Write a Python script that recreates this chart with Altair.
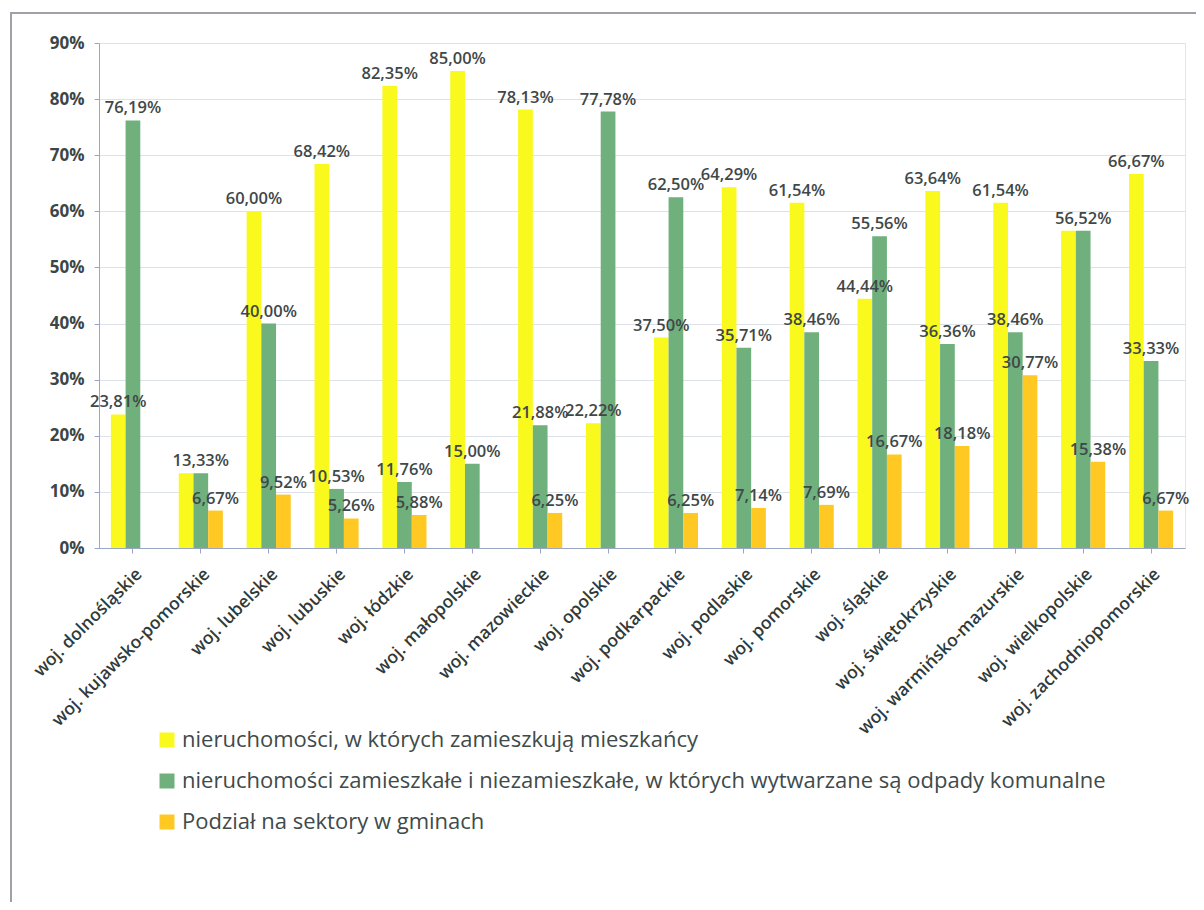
import altair as alt
import pandas as pd

regions = [
    "woj. dolnośląskie", "woj. kujawsko-pomorskie", "woj. lubelskie", "woj. lubuskie",
    "woj. łódzkie", "woj. małopolskie", "woj. mazowieckie", "woj. opolskie",
    "woj. podkarpackie", "woj. podlaskie", "woj. pomorskie", "woj. śląskie",
    "woj. świętokrzyskie", "woj. warmińsko-mazurskie", "woj. wielkopolskie",
    "woj. zachodniopomorskie",
]
series = [
    "nieruchomości, w których zamieszkują mieszkańcy",
    "nieruchomości zamieszkałe i niezamieszkałe, w których wytwarzane są odpady komunalne",
    "Podział na sektory w gminach",
]
s1 = [23.81, 13.33, 60.00, 68.42, 82.35, 85.00, 78.13, 22.22, 37.50, 64.29, 61.54, 44.44, 63.64, 61.54, 56.52, 66.67]
s2 = [76.19, 13.33, 40.00, 10.53, 11.76, 15.00, 21.88, 77.78, 62.50, 35.71, 38.46, 55.56, 36.36, 38.46, 56.52, 33.33]
s3 = [None, 6.67, 9.52, 5.26, 5.88, None, 6.25, None, 6.25, 7.14, 7.69, 16.67, 18.18, 30.77, 15.38, 6.67]
colors = ["#F9F91E", "#6FB07C", "#FFC823"]

rows = []
for i, r in enumerate(regions):
    for k, (name, vals) in enumerate(zip(series, [s1, s2, s3])):
        v = vals[i]
        if v is None:
            continue
        lab = f"{v:.2f}".replace(".", ",") + "%"
        # where the first two series are equal the reference shows one shared label
        if k == 0 and s2[i] == v:
            lab = ""
        rows.append({"region": r, "series": name, "value": v / 100, "label": lab})
df = pd.DataFrame(rows)

x = alt.X(
    "region:N", sort=regions, title=None,
    scale=alt.Scale(paddingInner=0.35, paddingOuter=0.175),
    axis=alt.Axis(
        labelAngle=-45, labelFont="Open Sans", labelFontSize=17.5, labelFontWeight=600,
        labelColor="#2f3a3a",
        labelPadding=12, tickSize=5, tickColor="#9aa6c4", domainColor="#9aa6c4",
        labelLimit=400, grid=False,
    ),
)
xo = alt.XOffset("series:N", sort=series, scale=alt.Scale(domain=series, paddingInner=0, paddingOuter=0))
y = alt.Y(
    "value:Q", title=None,
    scale=alt.Scale(domain=[0, 0.9], nice=False),
    axis=alt.Axis(
        format=".0%", values=[i / 10 for i in range(10)], labelFont="Open Sans",
        labelFontSize=17, labelFontWeight="bold", labelColor="#3c4646", labelPadding=10,
        tickSize=5, tickColor="#9aa6c4", domainColor="#9aa6c4",
        gridColor="#dde1ea", gridWidth=1.2,
    ),
)

bars = alt.Chart(df).mark_bar().encode(
    x=x, xOffset=xo, y=y,
    color=alt.Color(
        "series:N", sort=series, scale=alt.Scale(domain=series, range=colors),
        legend=alt.Legend(
            title=None, orient="none", legendX=57, legendY=686, direction="vertical",
            symbolType="square", symbolSize=225, symbolStrokeWidth=0,
            labelFont="Open Sans", labelFontSize=22, labelColor="#404a4a",
            labelLimit=1200, rowPadding=19, labelOffset=4, padding=0,
        ),
    ),
)

text = alt.Chart(df).mark_text(
    dy=-12, font="Open Sans", fontSize=16.5, fontWeight=600, color="#3f4848",
).encode(x=x, xOffset=xo, y=y, text="label:N")

frame = alt.Chart(pd.DataFrame({"a": [0]})).mark_rect(
    fill=None, stroke="#a0a0a8", strokeWidth=2
).encode(x=alt.value(-88), x2=alt.value(1200), y=alt.value(-30), y2=alt.value(1000))

chart = alt.layer(frame, bars, text).properties(
    width=1086, height=505,
    autosize=alt.AutoSizeParams(type="none"),
    padding={"left": 91, "top": 35, "right": 11, "bottom": 354},
).configure_view(stroke="#e3e6ee")

chart.save("out.html", embed_options={"renderer": "svg", "actions": False})
